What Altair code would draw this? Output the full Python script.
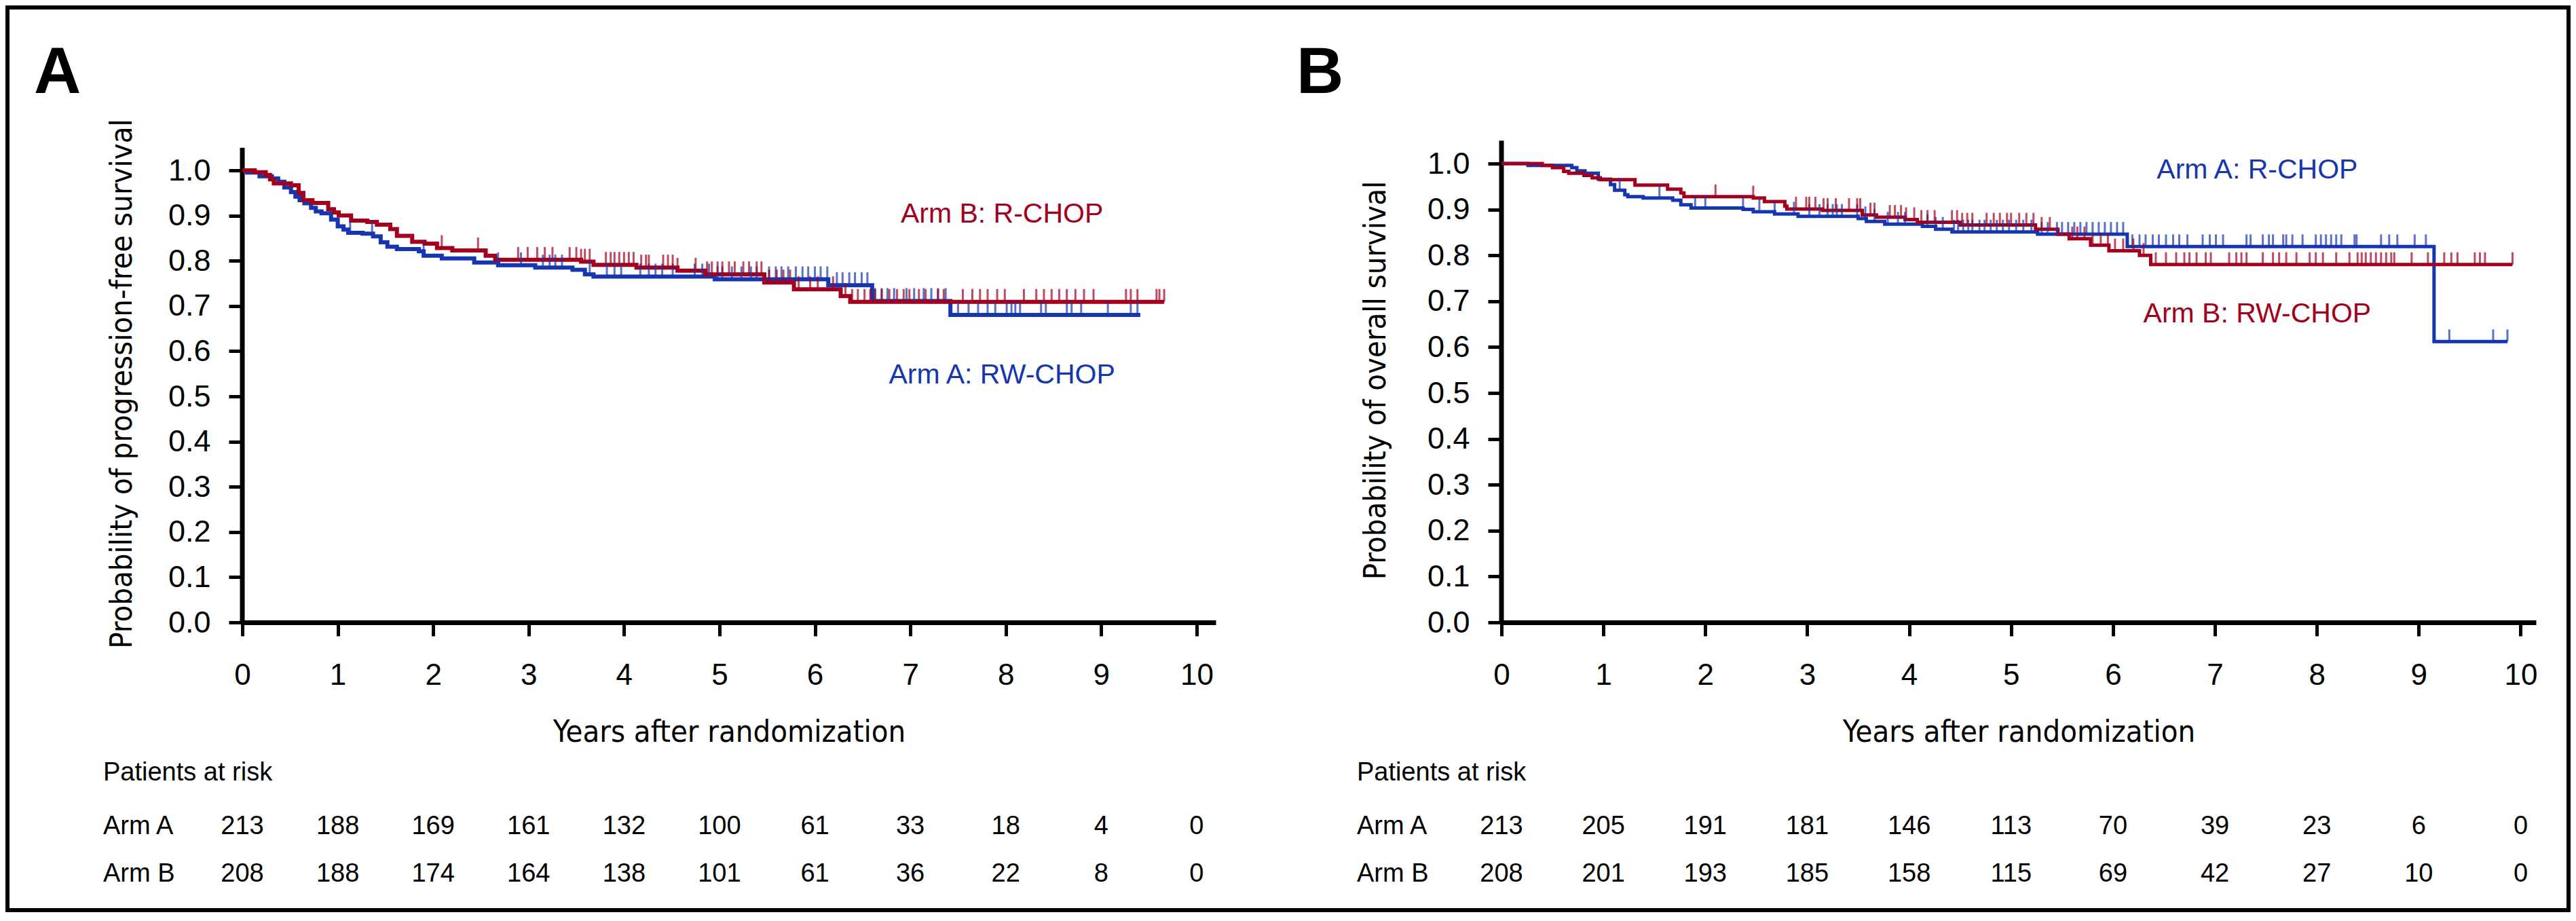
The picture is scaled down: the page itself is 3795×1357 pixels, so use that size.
import altair as alt
import pandas as pd

RED = "#A3001E"
BLUE = "#1636B0"
ARMS = ["Arm A", "Arm B"]
REG = "Liberation Sans, Arial, sans-serif"
NARROW = "Liberation Sans Narrow, Arial Narrow, DejaVu Sans Condensed, sans-serif"

# ---------------- Panel A : progression-free survival ----------------
a_armA_t = [0, 0.05, 0.18, 0.31, 0.376, 0.44, 0.51, 0.556, 0.6, 0.65, 0.72, 0.77, 0.83, 0.93, 1.0, 1.06,
            1.11, 1.26, 1.37, 1.45, 1.52, 1.62, 1.85, 1.9, 2.09, 2.43, 2.68, 3.07, 3.46, 3.59, 3.68, 4.95,
            6.14, 6.6, 7.42, 9.41]
a_armA_s = [1.0, 0.995, 0.987, 0.982, 0.975, 0.962, 0.952, 0.942, 0.934, 0.927, 0.917, 0.909, 0.905, 0.891,
            0.876, 0.869, 0.862, 0.86, 0.854, 0.841, 0.831, 0.826, 0.821, 0.811, 0.805, 0.796, 0.79, 0.785,
            0.78, 0.77, 0.765, 0.759, 0.746, 0.711, 0.68, 0.68]
a_armB_t = [0, 0.13, 0.245, 0.29, 0.33, 0.51, 0.59, 0.64, 0.735, 0.9, 0.96, 1.01, 1.14, 1.31, 1.41, 1.55,
            1.62, 1.78, 1.91, 2.04, 2.2, 2.55, 2.65, 3.55, 3.68, 4.13, 4.56, 4.85, 5.47, 5.78, 6.27, 6.37, 9.66]
a_armB_s = [1.0, 0.996, 0.99, 0.98, 0.971, 0.967, 0.95, 0.934, 0.928, 0.914, 0.907, 0.9, 0.889, 0.886, 0.88,
            0.87, 0.855, 0.842, 0.838, 0.828, 0.823, 0.811, 0.802, 0.798, 0.791, 0.785, 0.778, 0.77, 0.752,
            0.737, 0.722, 0.709, 0.709]
a_armA_cens = [1.13, 1.36, 1.9, 2.68, 2.92, 3.15, 3.22, 3.28, 3.35, 3.64, 3.82, 3.9, 3.97, 4.17, 4.26, 4.33,
               4.4, 4.51, 4.74, 4.82, 4.89, 4.98, 5.03, 5.13, 5.23, 5.33, 5.39, 5.52, 5.59, 5.65, 5.72, 5.8,
               5.87, 5.93, 6.0, 6.06, 6.13, 6.23, 6.29, 6.36, 6.42, 6.49, 6.55, 6.63, 6.7, 6.76, 6.83, 6.96,
               7.04, 7.14, 7.22, 7.29, 7.37, 7.5, 7.61, 7.71, 7.81, 7.89, 8.01, 8.06, 8.1, 8.15, 8.37, 8.42,
               8.64, 8.69, 8.79, 9.07, 9.31, 9.38]
a_armB_cens = [2.09, 2.47, 2.89, 2.99, 3.09, 3.17, 3.25, 3.43, 3.5, 3.55, 3.59, 3.64, 3.81, 3.86, 3.9, 3.95,
               4.0, 4.05, 4.1, 4.18, 4.23, 4.26, 4.41, 4.46, 4.51, 4.56, 4.75, 4.87, 4.92, 4.98, 5.03, 5.1,
               5.16, 5.25, 5.31, 5.39, 5.44, 5.52, 5.6, 5.67, 5.74, 5.83, 5.95, 6.03, 6.19, 6.32, 6.39, 6.45,
               6.52, 6.58, 6.63, 6.7, 6.78, 6.86, 6.93, 6.99, 7.09, 7.16, 7.29, 7.35, 7.55, 7.65, 7.73, 7.81,
               7.91, 7.99, 8.19, 8.32, 8.4, 8.48, 8.56, 8.64, 8.73, 8.82, 8.92, 9.26, 9.31, 9.38, 9.58, 9.61,
               9.66]

# ---------------- Panel B : overall survival ----------------
b_armA_t = [0, 0.26, 0.69, 0.74, 0.82, 0.95, 1.07, 1.11, 1.21, 1.24, 1.39, 1.68, 1.76, 1.86, 2.37, 2.47,
            2.68, 2.91, 3.5, 3.58, 3.76, 4.13, 4.26, 4.42, 5.26, 6.14, 9.15, 9.87]
b_armA_s = [1.0, 0.996, 0.991, 0.984, 0.979, 0.966, 0.954, 0.942, 0.932, 0.928, 0.925, 0.92, 0.91, 0.903,
            0.9, 0.895, 0.89, 0.885, 0.88, 0.874, 0.868, 0.863, 0.857, 0.851, 0.846, 0.819, 0.612, 0.612]
b_armB_t = [0, 0.4, 0.5, 0.61, 0.66, 0.81, 0.89, 0.97, 1.31, 1.63, 1.76, 1.79, 2.47, 2.58, 2.78, 2.8, 3.15,
            3.54, 3.68, 3.96, 4.08, 4.5, 5.24, 5.46, 5.57, 5.78, 5.96, 6.26, 6.37, 9.92]
b_armB_s = [1.0, 0.996, 0.991, 0.983, 0.979, 0.974, 0.969, 0.965, 0.953, 0.944, 0.936, 0.928, 0.925, 0.917,
            0.907, 0.901, 0.898, 0.888, 0.883, 0.878, 0.872, 0.866, 0.857, 0.846, 0.836, 0.822, 0.81, 0.8,
            0.78, 0.78]
b_armA_cens = [1.16, 1.55, 1.9, 2.0, 2.37, 2.53, 2.68, 2.87, 3.02, 3.12, 3.2, 3.25, 3.29, 3.34, 3.49, 3.57,
               3.66, 3.79, 3.89, 3.96, 4.18, 4.26, 4.33, 4.44, 4.48, 4.53, 4.58, 4.62, 4.69, 4.74, 4.8, 4.86,
               4.92, 4.98, 5.05, 5.12, 5.2, 5.3, 5.36, 5.45, 5.5, 5.56, 5.62, 5.68, 5.74, 5.8, 5.86, 5.92,
               5.98, 6.04, 6.1, 6.19, 6.26, 6.32, 6.39, 6.45, 6.52, 6.59, 6.65, 6.73, 6.88, 6.95, 7.01, 7.08,
               7.31, 7.35, 7.47, 7.53, 7.57, 7.67, 7.7, 7.76, 7.86, 7.99, 8.04, 8.09, 8.14, 8.19, 8.24, 8.37,
               8.39, 8.63, 8.71, 8.79, 8.96, 9.07, 9.3, 9.73, 9.87]
b_armB_cens = [2.1, 2.47, 2.89, 2.99, 3.02, 3.08, 3.16, 3.2, 3.28, 3.41, 3.49, 3.52, 3.62, 3.66, 3.81, 3.86,
               3.92, 3.97, 4.05, 4.12, 4.18, 4.25, 4.42, 4.47, 4.52, 4.57, 4.62, 4.76, 4.83, 4.89, 4.96, 5.0,
               5.08, 5.15, 5.22, 5.3, 5.38, 5.6, 5.65, 5.72, 5.8, 5.88, 5.95, 6.02, 6.1, 6.2, 6.3, 6.42, 6.52,
               6.62, 6.7, 6.75, 6.82, 6.91, 6.96, 7.14, 7.21, 7.26, 7.31, 7.47, 7.57, 7.63, 7.7, 7.8, 7.93,
               7.99, 8.06, 8.19, 8.32, 8.4, 8.44, 8.48, 8.53, 8.58, 8.63, 8.68, 8.73, 8.76, 8.93, 9.09, 9.25,
               9.32, 9.38, 9.55, 9.6, 9.65, 9.92]

# ---------------- Patients at risk ----------------
years = [0, 1, 2, 3, 4, 5, 6, 7, 8, 9, 10]
a_risk_A = [213, 188, 169, 161, 132, 100, 61, 33, 18, 4, 0]
a_risk_B = [208, 188, 174, 164, 138, 101, 61, 36, 22, 8, 0]
b_risk_A = [213, 205, 191, 181, 146, 113, 70, 39, 23, 6, 0]
b_risk_B = [208, 201, 193, 185, 158, 115, 69, 42, 27, 10, 0]

# curve labels: (text, arm, year, survival)
a_notes = [("Arm B: R-CHOP", "Arm B", 7.96, 0.884), ("Arm A: RW-CHOP", "Arm A", 7.96, 0.529)]
b_notes = [("Arm A: R-CHOP", "Arm A", 7.415, 0.967), ("Arm B: RW-CHOP", "Arm B", 7.415, 0.654)]

PAD = 6  # black figure frame = chart padding over a black background


def surv_at(ts, ss, t):
    v = ss[0]
    for ti, si in zip(ts, ss):
        if ti <= t:
            v = si
        else:
            break
    return v


def panel(steps, cens, risk_a, risk_b, ytitle, letter, notes, g):
    ox, oy = g["ox"], g["oy"]
    W, H = g["W"], g["H"]
    color = alt.Color("arm:N", scale=alt.Scale(domain=ARMS, range=[BLUE, RED]), legend=None)
    xs = alt.Scale(domain=[0, g["xmax"]], nice=False, zero=False)
    ys = alt.Scale(domain=[0, g["ymax"]], nice=False, zero=False)
    xaxis = alt.Axis(values=years, format="d", title="Years after randomization",
                     titleFont=NARROW, titleFontSize=45, titleFontWeight="normal", titleColor="black",
                     titleBaseline="alphabetic", titleY=1092 - 917,
                     labelFont=REG, labelFontSize=44, labelColor="black", labelPadding=36,
                     labelFlush=False, labelOverlap=False,
                     tickSize=20, tickWidth=5, tickColor="black",
                     domainWidth=7, domainColor="black", grid=False, zindex=1)
    yaxis = alt.Axis(values=[i / 10 for i in range(11)], format=".1f", title=ytitle,
                     titleFont=NARROW, titleFontSize=45, titleFontWeight="normal", titleColor="black",
                     titleAngle=-90, titleAlign="center", titleBaseline="middle",
                     titleX=g["tx"] - ox, titleY=g["ty"] - oy,
                     labelFont=REG, labelFontSize=45, labelColor="black", labelPadding=27,
                     labelFlush=False, labelOverlap=False,
                     tickSize=20, tickWidth=5, tickColor="black",
                     domain=False, grid=False, zindex=1)

    rows = []
    for arm, (ts, ss) in zip(ARMS, steps):
        for t, s in zip(ts, ss):
            rows.append({"t": t, "s": s, "arm": arm})
    curve_df = pd.DataFrame(rows)
    crow = []
    for arm, (ts, ss), cl in zip(ARMS, steps, cens):
        for t in cl:
            crow.append({"t": t, "s": surv_at(ts, ss, t), "arm": arm})
    cens_df = pd.DataFrame(crow)

    one = pd.DataFrame({"k": [0]})
    # white sheet of this panel (the black background around it forms the frame)
    fl, fr, ft, fb = g["sheet"]
    sheet = alt.Chart(one).mark_rect(fill="white", strokeWidth=0).encode(
        x=alt.value(fl - ox), x2=alt.value(fr - ox), y=alt.value(ft - oy), y2=alt.value(fb - oy))

    # y-axis line: from 0 up to 1.05
    yline_df = pd.DataFrame({"t": [0], "s0": [0.0], "s1": [1.05]})
    yline = alt.Chart(yline_df).mark_rule(color="black", strokeWidth=7).encode(
        x=alt.X("t:Q", scale=xs, axis=xaxis), y=alt.Y("s0:Q", scale=ys, axis=yaxis), y2="s1:Q")

    lines = alt.Chart(curve_df).mark_line(interpolate="step-after", strokeWidth=g["lw"]).encode(
        x="t:Q", y="s:Q", color=color)
    ticks = alt.Chart(cens_df).mark_tick(orient="vertical", thickness=3, size=g["tick"],
                                         yOffset=-g["tick"] / 2).encode(
        x="t:Q", y="s:Q", color=color)

    ndf = pd.DataFrame([{"label": a, "arm": b, "t": c, "s": d} for a, b, c, d in notes])
    note_layer = alt.Chart(ndf).mark_text(font=REG, fontSize=41, align="center",
                                          baseline="alphabetic").encode(
        x="t:Q", y="s:Q", text="label:N", color=color)

    layers = [sheet, yline, lines, ticks, note_layer]

    # number-at-risk table, positioned by the x scale
    for vals, yy in ((risk_a, g["rowA"]), (risk_b, g["rowB"])):
        rdf = pd.DataFrame({"t": years, "n": vals})
        layers.append(alt.Chart(rdf).mark_text(font=REG, fontSize=38, color="black",
                                               baseline="alphabetic", align="center").encode(
            x="t:Q", y=alt.value(yy - oy), text="n:Q"))
    for txt, yy in (("Patients at risk", g["rowP"]), ("Arm A", g["rowA"]), ("Arm B", g["rowB"])):
        layers.append(alt.Chart(one).mark_text(font=REG, fontSize=38, color="black",
                                               baseline="alphabetic", align="left").encode(
            x=alt.value(g["lx"] - ox), y=alt.value(yy - oy), text=alt.value(txt)))
    # panel letter
    layers.append(alt.Chart(one).mark_text(font=REG, fontSize=96, fontWeight="bold", color="black",
                                           baseline="alphabetic", align="left").encode(
        x=alt.value(g["Lx"] - ox), y=alt.value(137 - oy), text=alt.value(letter)))

    return alt.layer(*layers).properties(width=W, height=H)


# page coordinates; both plot areas start at page y = 207; 0.0 at y = 917
gA = dict(ox=357, oy=207, W=1434, H=710, xmax=10.2, ymax=710 / 666, lw=6, tick=19, tx=179, ty=565,
          rowP=1150, rowA=1229, rowB=1299, lx=152, Lx=50,
          sheet=(8 + PAD, 1897, 8 + PAD, 1338))
gB = dict(ox=2212, oy=207, W=1524, H=710, xmax=10.15, ymax=710 / 676, lw=5, tick=18, tx=2026, ty=560,
          rowP=1150, rowA=1229, rowB=1299, lx=1999, Lx=1910,
          sheet=(1897, 3781, 8 + PAD, 1338))

pA = panel([(a_armA_t, a_armA_s), (a_armB_t, a_armB_s)], [a_armA_cens, a_armB_cens],
           a_risk_A, a_risk_B, "Probability of progression-free survival", "A", a_notes, gA)
pB = panel([(b_armA_t, b_armA_s), (b_armB_t, b_armB_s)], [b_armA_cens, b_armB_cens],
           b_risk_A, b_risk_B, "Probability of overall survival", "B", b_notes, gB)

chart = alt.hconcat(pA, pB, spacing=0).resolve_scale(x="independent", y="independent").properties(
    padding=PAD, background="black"
).configure_view(stroke=None)

chart.save("out.html", embed_options={"renderer": "svg", "actions": False})
